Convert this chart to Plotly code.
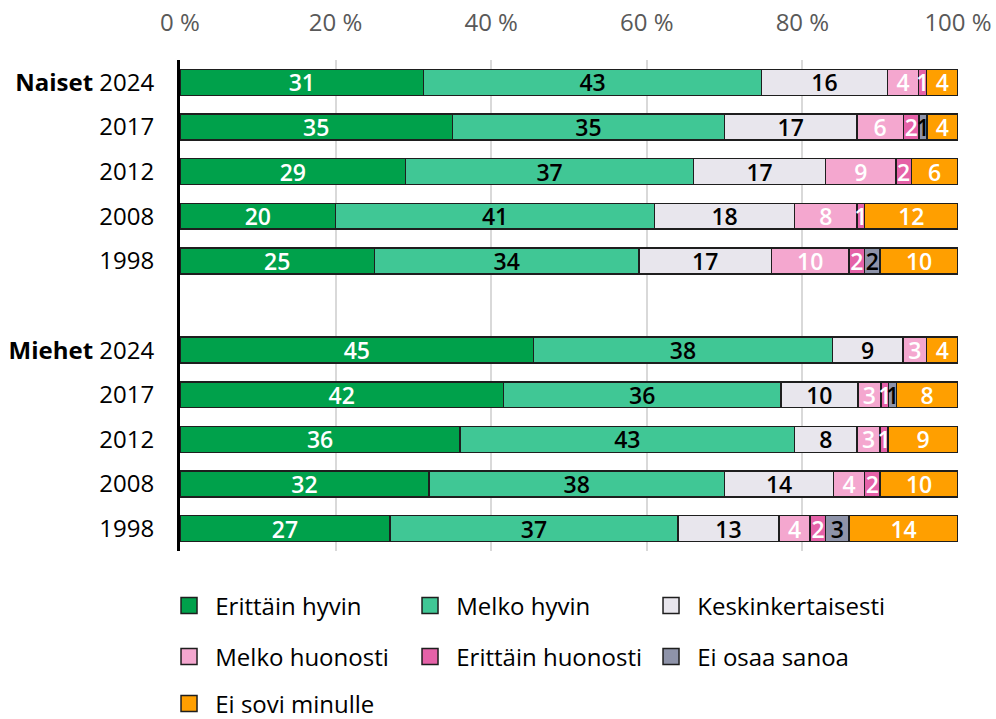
import plotly.graph_objects as go

# Survey rows: women then men, newest year first
groups = ["Naiset", "Naiset", "Naiset", "Naiset", "Naiset",
          "Miehet", "Miehet", "Miehet", "Miehet", "Miehet"]
years = ["2024", "2017", "2012", "2008", "1998",
         "2024", "2017", "2012", "2008", "1998"]

# Answer shares (%) per row; None = no answers in that class
erittain_hyvin = [31, 35, 29, 20, 25, 45, 42, 36, 32, 27]
melko_hyvin = [43, 35, 37, 41, 34, 38, 36, 43, 38, 37]
keskinkertaisesti = [16, 17, 17, 18, 17, 9, 10, 8, 14, 13]
melko_huonosti = [4, 6, 9, 8, 10, 3, 3, 3, 4, 4]
erittain_huonosti = [1, 2, 2, 1, 2, None, 1, 1, 2, 2]
ei_osaa_sanoa = [None, 1, None, None, 2, None, 1, None, None, 3]
ei_sovi_minulle = [4, 4, 6, 12, 10, 4, 8, 9, 10, 14]

x_ticks = [0, 20, 40, 60, 80, 100]

series = [
    ("Erittäin hyvin", erittain_hyvin, "#00a14b", "white", "legend"),
    ("Melko hyvin", melko_hyvin, "#40c795", "black", "legend"),
    ("Keskinkertaisesti", keskinkertaisesti, "#e8e6ed", "black", "legend"),
    ("Melko huonosti", melko_huonosti, "#f4a7cf", "white", "legend2"),
    ("Erittäin huonosti", erittain_huonosti, "#e562a8", "white", "legend2"),
    ("Ei osaa sanoa", ei_osaa_sanoa, "#8e93a9", "black", "legend2"),
    ("Ei sovi minulle", ei_sovi_minulle, "#ff9f00", "white", "legend3"),
]

# Category keys, with an empty spacer row between the two groups
row_keys = [f"{g} {y}" for g, y in zip(groups, years)]
gap_key = "gap"
categories = row_keys[:5] + [gap_key] + row_keys[5:]

tick_text = []
for i, (g, y) in enumerate(zip(groups, years)):
    if i == 0 or groups[i - 1] != g:
        tick_text.append(f"<b>{g}</b> {y}")
    else:
        tick_text.append(y)

FONT = "Open Sans, Noto Sans, sans-serif"
EDGE = "#1e1e1e"

fig = go.Figure()
for name, vals, color, txtcolor, leg in series:
    xs = vals[:5] + [None] + vals[5:]
    labels = ["" if v is None else str(v) for v in xs]
    fig.add_trace(go.Bar(
        name=name,
        y=categories,
        x=xs,
        orientation="h",
        marker=dict(color=color, line=dict(color=EDGE, width=1.5)),
        text=labels,
        texttemplate="%{text}",
        textposition="inside",
        insidetextanchor="middle",
        textangle=0,
        textfont=dict(family=FONT, size=23, color=txtcolor, weight=600),
        showlegend=False,
        hoverinfo="skip",
    ))

# Legend keys: larger square swatches than the default bar symbol
for name, vals, color, txtcolor, leg in series:
    fig.add_trace(go.Scatter(
        name="\u00a0" + name,
        x=[None],
        y=[None],
        mode="markers",
        marker=dict(symbol="square", size=16, color=color,
                    line=dict(color=EDGE, width=1.5)),
        legend=leg,
        hoverinfo="skip",
    ))

legend_common = dict(
    orientation="h",
    xref="container",
    yref="container",
    x=0.1697,
    xanchor="left",
    yanchor="middle",
    entrywidth=196,
    entrywidthmode="pixels",
    font=dict(family=FONT, size=24, color="black"),
    bgcolor="rgba(0,0,0,0)",
    traceorder="normal",
    itemsizing="trace",
)

fig.update_layout(
    width=996,
    height=719,
    margin=dict(l=180, r=38, t=60, b=168),
    barmode="stack",
    barnorm="percent",
    bargap=0.42,
    plot_bgcolor="white",
    paper_bgcolor="white",
    font=dict(family=FONT, color="black"),
    uniformtext=dict(minsize=23, mode="show"),
    xaxis=dict(
        side="top",
        range=[0, 100],
        tickvals=x_ticks,
        ticktext=[f"{t} %" for t in x_ticks],
        tickfont=dict(family=FONT, size=24, color="#595959"),
        showgrid=True,
        gridcolor="#d9d9d9",
        gridwidth=2,
        zeroline=False,
        showline=False,
        ticks="",
        ticklabelstandoff=23,
        automargin=False,
        fixedrange=True,
    ),
    yaxis=dict(
        type="category",
        categoryorder="array",
        categoryarray=categories,
        autorange="reversed",
        tickmode="array",
        tickvals=row_keys,
        ticktext=tick_text,
        tickfont=dict(family=FONT, size=24, color="black"),
        showline=True,
        linecolor="black",
        linewidth=3,
        ticks="",
        ticklabelstandoff=18,
        showgrid=False,
        automargin=False,
        fixedrange=True,
    ),
    legend=dict(legend_common, y=1 - 606 / 719),
    legend2=dict(legend_common, y=1 - 657 / 719),
    legend3=dict(legend_common, y=1 - 704 / 719),
)

fig.write_html("out.html")
